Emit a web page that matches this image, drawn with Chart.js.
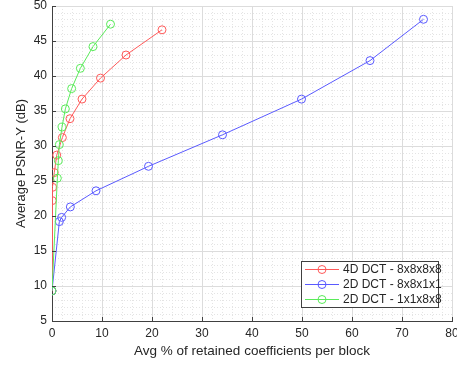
<!DOCTYPE html>
<html>
<head>
<meta charset="utf-8">
<script src="https://cdn.jsdelivr.net/npm/chart.js@4/dist/chart.umd.min.js"></script>
<style>
  html, body { margin: 0; padding: 0; background: #fff; }
  #wrap { width: 457px; height: 367px; position: relative; }
</style>
</head>
<body>
<div id="wrap"><canvas id="psnr"></canvas></div>
<script>
// retained coefficients (%) vs. PSNR-Y (dB), one pair of arrays per transform
const dct4dX = [0, 0.05, 0.12, 0.45, 0.95, 2.07, 3.6, 6.0, 9.7, 14.8, 22.0];
const dct4dY = [9.3, 22.2, 24.1, 26.2, 28.7, 31.2, 33.9, 36.7, 39.7, 43.0, 46.6];

const dct2dBlockX = [0, 1.47, 1.93, 3.67, 8.8, 19.3, 34.1, 49.9, 63.6, 74.3];
const dct2dBlockY = [9.3, 19.2, 19.8, 21.3, 23.6, 27.1, 31.6, 36.7, 42.2, 48.1];

const dct2dViewX = [0, 1.07, 1.27, 1.47, 2.0, 2.67, 3.93, 5.67, 8.2, 11.7];
const dct2dViewY = [9.3, 25.4, 27.9, 30.2, 32.7, 35.3, 38.2, 41.1, 44.2, 47.4];

const seriesLabels = ['4D DCT - 8x8x8x8', '2D DCT - 8x8x1x1', '2D DCT - 1x1x8x8'];

const xTicks = [0, 10, 20, 30, 40, 50, 60, 70, 80];
const yTicks = [5, 10, 15, 20, 25, 30, 35, 40, 45, 50];

const COLORS = ['rgb(255,90,90)', 'rgb(90,90,255)', 'rgb(90,235,90)'];
const FONT = "'Liberation Sans', Arial, Helvetica, sans-serif";
const AXIS = '#404040';

const toPoints = (xs, ys) => xs.map((x, i) => ({ x, y: ys[i] }));

// later series sit on top, so they get a lower draw order
function series(label, xs, ys, color, order) {
    return {
        label,
        data: toPoints(xs, ys),
        order,
        showLine: true,
        borderColor: color,
        backgroundColor: 'transparent',
        borderWidth: 1,
        pointRadius: 4,
        pointBorderWidth: 1,
        pointBorderColor: color,
        pointBackgroundColor: 'transparent',
        tension: 0,
    };
}

// inward tick marks on the left and bottom axes
const innerTicks = {
    id: 'innerTicks',
    afterDraw(chart) {
        const { ctx, chartArea: a, scales } = chart;
        ctx.save();
        ctx.strokeStyle = AXIS;
        ctx.lineWidth = 1;
        ctx.beginPath();
        xTicks.forEach(v => {
            const px = Math.round(scales.x.getPixelForValue(v)) + 0.5;
            ctx.moveTo(px, a.bottom);
            ctx.lineTo(px, a.bottom - 4);
        });
        yTicks.forEach(v => {
            const py = Math.round(scales.y.getPixelForValue(v)) + 0.5;
            ctx.moveTo(a.left, py);
            ctx.lineTo(a.left + 4, py);
        });
        ctx.stroke();
        ctx.restore();
    }
};

// boxed legend in the lower right of the plot
const boxLegend = {
    id: 'boxLegend',
    afterDraw(chart) {
        const { ctx } = chart;
        const x0 = 301, y0 = 261, w = 137, h = 46;
        ctx.save();
        ctx.fillStyle = '#fff';
        ctx.fillRect(x0, y0, w, h);
        ctx.strokeStyle = AXIS;
        ctx.lineWidth = 1;
        ctx.strokeRect(x0 + 0.5, y0 + 0.5, w, h);
        ctx.font = '12px ' + FONT;
        ctx.textBaseline = 'middle';
        chart.data.datasets.forEach((ds, i) => {
            const cy = y0 + 8.5 + i * 15;
            ctx.strokeStyle = ds.borderColor;
            ctx.beginPath();
            ctx.moveTo(x0 + 4, cy);
            ctx.lineTo(x0 + 38, cy);
            ctx.stroke();
            ctx.beginPath();
            ctx.arc(x0 + 21, cy, 4, 0, Math.PI * 2);
            ctx.stroke();
            ctx.fillStyle = '#262626';
            ctx.fillText(ds.label, x0 + 42, cy + 0.5);
        });
        ctx.restore();
    }
};

new Chart(document.getElementById('psnr'), {
    type: 'scatter',
    data: {
        datasets: [
            series(seriesLabels[0], dct4dX, dct4dY, COLORS[0], 3),
            series(seriesLabels[1], dct2dBlockX, dct2dBlockY, COLORS[1], 2),
            series(seriesLabels[2], dct2dViewX, dct2dViewY, COLORS[2], 1),
        ]
    },
    plugins: [innerTicks, boxLegend],
    options: {
        responsive: true,
        maintainAspectRatio: false,
        animation: false,
        layout: { padding: { left: 0, top: 6, right: 5, bottom: 0 } },
        plugins: { legend: { display: false }, tooltip: { enabled: false } },
        scales: {
            xMinor: {
                type: 'linear', position: 'bottom', min: 0, max: 80,
                ticks: { display: false, stepSize: 2 },
                grid: {
                    drawTicks: false,
                    color: c => (c.tick.value % 10 === 0 ? 'transparent' : '#e4e4e4'),
                },
                border: { display: false, dash: [1, 2] },
                afterFit: s => { s.height = 0; s.paddingLeft = 0; s.paddingRight = 0; },
            },
            yMinor: {
                type: 'linear', position: 'left', min: 5, max: 50,
                ticks: { display: false, stepSize: 1 },
                grid: {
                    drawTicks: false,
                    color: c => (c.tick.value % 5 === 0 ? 'transparent' : '#e4e4e4'),
                },
                border: { display: false, dash: [1, 2] },
                afterFit: s => { s.width = 0; s.paddingTop = 0; s.paddingBottom = 0; },
            },
            x: {
                type: 'linear', position: 'bottom', min: 0, max: 80,
                afterBuildTicks: s => { s.ticks = xTicks.map(v => ({ value: v })); },
                ticks: { color: '#262626', font: { family: FONT, size: 12 }, padding: 5, maxRotation: 0 },
                grid: { drawTicks: false, color: '#dcdcdc' },
                border: { color: AXIS },
                title: {
                    display: true,
                    text: 'Avg % of retained coefficients per block',
                    color: '#262626',
                    font: { family: FONT, size: 13.5 },
                    padding: { top: 0, bottom: 8 },
                },
                afterFit: s => { s.height = 46; s.paddingLeft = 0; s.paddingRight = 0; },
            },
            y: {
                type: 'linear', position: 'left', min: 5, max: 50,
                afterBuildTicks: s => { s.ticks = yTicks.map(v => ({ value: v })); },
                ticks: { color: '#262626', font: { family: FONT, size: 12 }, padding: 5 },
                grid: { drawTicks: false, color: '#dcdcdc' },
                border: { color: AXIS },
                title: {
                    display: true,
                    text: 'Average PSNR-Y (dB)',
                    color: '#262626',
                    font: { family: FONT, size: 13 },
                    padding: { top: 14, bottom: 0 },
                },
                afterFit: s => { s.width = 52; s.paddingTop = 0; s.paddingBottom = 0; },
            },
        },
    },
});
</script>
</body>
</html>
